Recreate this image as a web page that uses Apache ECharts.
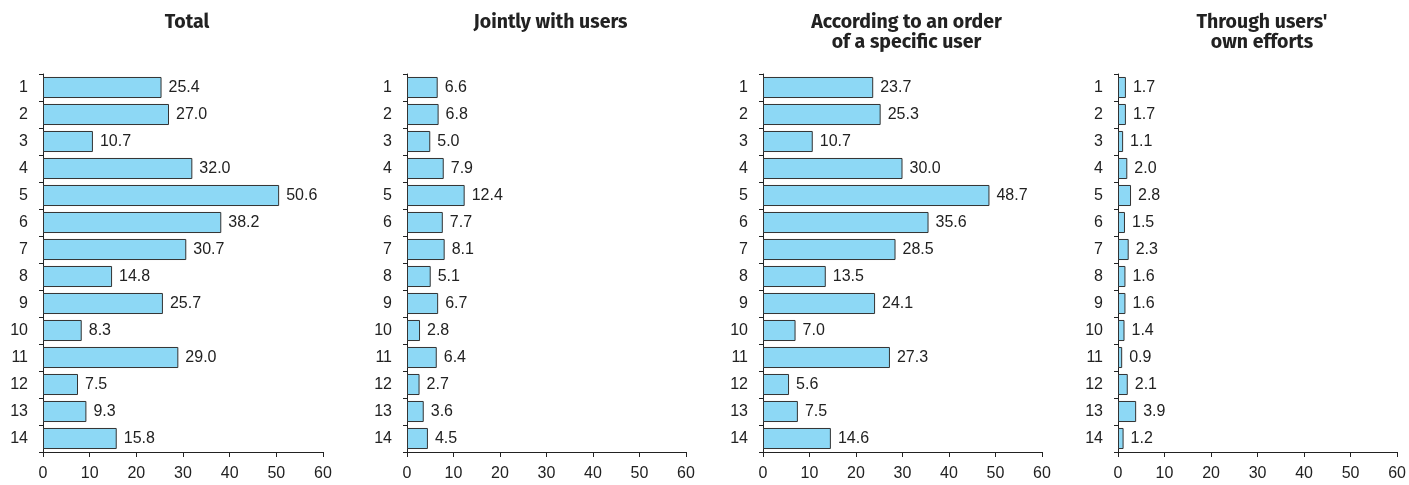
<!DOCTYPE html>
<html><head><meta charset="utf-8">
<script src="https://cdn.jsdelivr.net/npm/echarts@6/dist/echarts.min.js"></script>
<style>html,body{margin:0;padding:0;background:#fff}#c{width:1409px;height:485px}</style>
</head><body><div id="c"></div>
<script>
const categories = ['1','2','3','4','5','6','7','8','9','10','11','12','13','14'];
const titles = ['Total', 'Jointly with users', 'According to an order\nof a specific user', "Through users'\nown efforts"];
const total = [25.4, 27.0, 10.7, 32.0, 50.6, 38.2, 30.7, 14.8, 25.7, 8.3, 29.0, 7.5, 9.3, 15.8];
const jointly = [6.6, 6.8, 5.0, 7.9, 12.4, 7.7, 8.1, 5.1, 6.7, 2.8, 6.4, 2.7, 3.6, 4.5];
const byOrder = [23.7, 25.3, 10.7, 30.0, 48.7, 35.6, 28.5, 13.5, 24.1, 7.0, 27.3, 5.6, 7.5, 14.6];
const ownEfforts = [1.7, 1.7, 1.1, 2.0, 2.8, 1.5, 2.3, 1.6, 1.6, 1.4, 0.9, 2.1, 3.9, 1.2];
const xTicks = [0, 10, 20, 30, 40, 50, 60];

const seriesData = [total, jointly, byOrder, ownEfforts];
const lefts = [43, 407, 763, 1118];
const widths = [280, 279, 279, 280];

const labelFont = "'Liberation Sans',sans-serif";
const fs = 16;

const chart = echarts.init(document.getElementById('c'));
const opt = {animation:false, title:[], grid:[], xAxis:[], yAxis:[], series:[]};
seriesData.forEach((d,i)=>{
  opt.title.push({text: titles[i], left: lefts[i] + widths[i]/2 - 1, top: 8, textAlign:'center',
    textStyle:{fontFamily:"'Fira Sans','Noto Sans','DejaVu Sans',sans-serif", fontWeight:'bold', fontSize:19.5, color:'#222', lineHeight:20}});
  opt.grid.push({left: lefts[i], width: widths[i], top: 74, height: 378, containLabel:false});
  opt.xAxis.push({type:'value', gridIndex:i, min:xTicks[0], max:xTicks[xTicks.length-1], interval:10,
    axisLine:{show:true, lineStyle:{color:'#222', width:1}},
    axisTick:{show:true, length:5, lineStyle:{color:'#222'}},
    splitLine:{show:false},
    axisLabel:{fontFamily:labelFont, fontSize:fs, color:'#222', margin:14}});
  opt.yAxis.push({type:'category', gridIndex:i, data:categories, inverse:true,
    axisLine:{show:true, lineStyle:{color:'#222', width:1}},
    axisTick:{show:true, length:4, alignWithLabel:false, lineStyle:{color:'#222'}},
    axisLabel:{fontFamily:labelFont, fontSize:fs, color:'#222', margin:15}});
  opt.series.push({type:'bar', xAxisIndex:i, yAxisIndex:i, data:d, barCategoryGap:'22%',
    itemStyle:{color:'#8dd8f5', borderColor:'#333', borderWidth:1},
    label:{show:true, position:'right', distance:7, fontFamily:labelFont, fontSize:fs, color:'#222',
      formatter:p=>p.value.toFixed(1)}});
});
chart.setOption(opt);
</script></body></html>
